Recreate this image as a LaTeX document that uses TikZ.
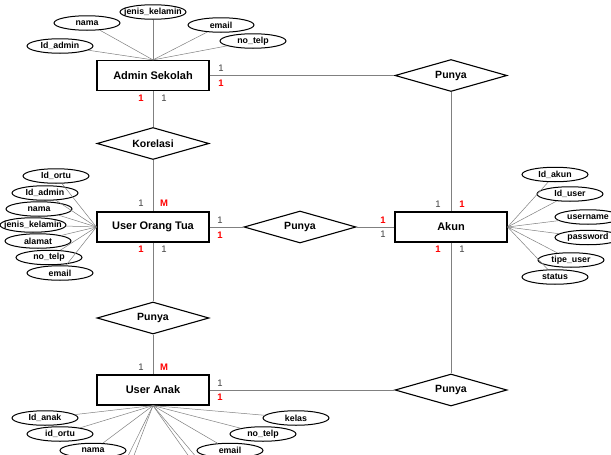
\documentclass[tikz,border=0pt]{standalone}
\usepackage{fontspec}
\setmainfont{Liberation Sans}
\usetikzlibrary{shapes.geometric}
\newcommand\atlbl[1]{\makebox[0pt]{#1}}
\begin{document}
\begin{tikzpicture}[x=1pt,y=-1pt,
  entity/.style={draw,line width=1.2pt,minimum width=112pt,minimum height=30pt,inner sep=0pt,
    font=\fontsize{11}{13}\selectfont\bfseries},
  rel/.style={diamond,aspect=3.5,draw,line width=1.1pt,minimum width=112pt,minimum height=32pt,inner sep=0pt,
    font=\fontsize{10.5}{12}\selectfont\bfseries},
  attr/.style={ellipse,draw,line width=1pt,minimum width=66pt,minimum height=14.5pt,inner sep=0pt,
    font=\fontsize{8.8}{10}\selectfont\bfseries},
  conn/.style={draw=black!50,line width=0.6pt},
  alink/.style={draw=black!50,line width=0.5pt},
  cg/.style={inner sep=0pt,text=black!75,font=\fontsize{9.5}{11}\selectfont},
  cr/.style={inner sep=0pt,text=red,font=\fontsize{9.5}{11}\selectfont\bfseries}]
\useasboundingbox (0,0) rectangle (611,455);
\clip (0,0) rectangle (611,455);
\fill[white] (0,0) rectangle (611,455);

% entities
\node[entity] (admin) at (153,75.5) {Admin Sekolah};
\node[entity] (uot) at (153,227) {User Orang Tua};
\node[entity] (akun) at (451,227) {Akun};
\node[entity] (ua) at (153,390) {User Anak};

% relationships
\node[rel] (p1) at (451,75.5) {Punya};
\node[rel] (kor) at (153,143.5) {Korelasi};
\node[rel] (p2) at (300,227) {Punya};
\node[rel] (p3) at (153,318) {Punya};
\node[rel] (p4) at (451,390) {Punya};

% relationship connectors
\path[conn] (admin) -- (p1);
\path[conn] (p1) -- (akun);
\path[conn] (admin) -- (kor);
\path[conn] (kor) -- (uot);
\path[conn] (uot) -- (p2);
\path[conn] (p2) -- (akun);
\path[conn] (uot) -- (p3);
\path[conn] (p3) -- (ua);
\path[conn] (ua) -- (p4);
\path[conn] (akun) -- (p4);

% Admin Sekolah attributes
\node[attr] (aa1) at (60,46) {\atlbl{Id\_admin}};
\node[attr] (aa2) at (87,23) {\atlbl{nama}};
\node[attr] (aa3) at (153,12) {\atlbl{jenis\_kelamin}};
\node[attr] (aa4) at (221,25) {\atlbl{email}};
\node[attr] (aa5) at (253,41) {\atlbl{no\_telp}};
\foreach \n in {aa1,aa2,aa3,aa4,aa5} \path[alink] (\n) -- (admin.north);

% User Orang Tua attributes
\node[attr] (ub1) at (56,176) {\atlbl{Id\_ortu}};
\node[attr] (ub2) at (45,193) {\atlbl{Id\_admin}};
\node[attr] (ub3) at (39,209) {\atlbl{nama}};
\node[attr] (ub4) at (33,225) {\atlbl{jenis\_kelamin}};
\node[attr] (ub5) at (38,241) {\atlbl{alamat}};
\node[attr] (ub6) at (49,257.5) {\atlbl{no\_telp}};
\node[attr] (ub7) at (60,273) {\atlbl{email}};
\foreach \n in {ub1,ub2,ub3,ub4,ub5,ub6,ub7} \path[alink] (\n) -- (uot.west);

% Akun attributes
\node[attr] (ak1) at (555,174.5) {\atlbl{Id\_akun}};
\node[attr] (ak2) at (570,194) {\atlbl{Id\_user}};
\node[attr] (ak3) at (588,217) {\atlbl{username}};
\node[attr] (ak4) at (588,237.5) {\atlbl{password}};
\node[attr] (ak5) at (571,260) {\atlbl{tipe\_user}};
\node[attr] (ak6) at (555,277) {\atlbl{status}};
\foreach \n in {ak1,ak2,ak3,ak4,ak5,ak6} \path[alink] (\n) -- (akun.east);

% User Anak attributes
\node[attr] (uc1) at (45,418) {\atlbl{Id\_anak}};
\node[attr] (uc2) at (60,434) {\atlbl{id\_ortu}};
\node[attr] (uc3) at (93,450.5) {\atlbl{nama}};
\node[attr] (uc4) at (296,418) {\atlbl{kelas}};
\node[attr] (uc5) at (263,434) {\atlbl{no\_telp}};
\node[attr] (uc6) at (230,450.5) {\atlbl{email}};
\foreach \n in {uc1,uc2,uc3,uc4,uc5,uc6} \path[alink] (\n) -- (ua.south);
\coordinate (uo1) at (127,458);
\coordinate (uo2) at (133,458);
\coordinate (uo3) at (190,458);
\coordinate (uo4) at (197,458);
\foreach \n in {uo1,uo2,uo3,uo4} \path[alink] (ua.south) -- (\n);

% cardinalities
\node[cg] (c1) at (221,68) {1};
\node[cr] (c2) at (221,83) {1};
\node[cr] (c3) at (141,98) {1};
\node[cg] (c4) at (164,98) {1};
\node[cg] (c5) at (141,203) {1};
\node[cr] (c6) at (164,203) {M};
\node[cg] (c7) at (220,220) {1};
\node[cr] (c8) at (220,235) {1};
\node[cr] (c9) at (141,249) {1};
\node[cg] (c10) at (164,249) {1};
\node[cr] (c11) at (383,220) {1};
\node[cg] (c12) at (383,234) {1};
\node[cg] (c13) at (438,204) {1};
\node[cr] (c14) at (462,204) {1};
\node[cr] (c15) at (438,249) {1};
\node[cg] (c16) at (462,249) {1};
\node[cg] (c17) at (141,367) {1};
\node[cr] (c18) at (164,367) {M};
\node[cg] (c19) at (220,383) {1};
\node[cr] (c20) at (220,397) {1};
\end{tikzpicture}
\end{document}
